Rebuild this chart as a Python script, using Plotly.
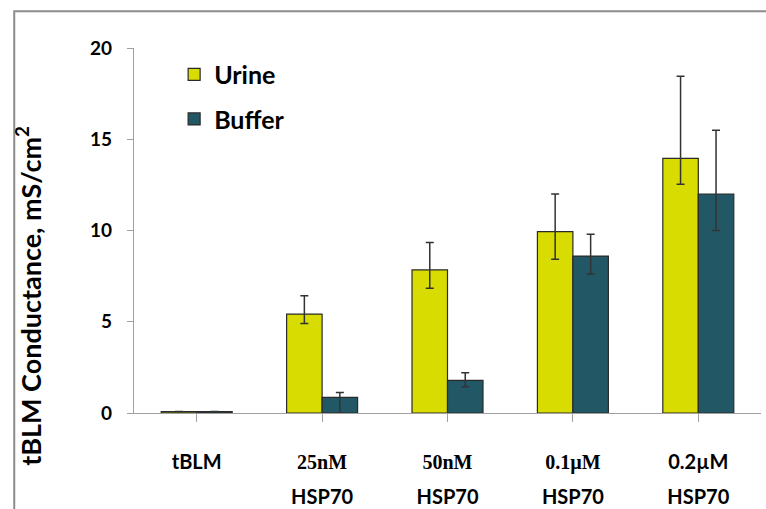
import plotly.graph_objects as go

# Conductance of tethered bilayer membranes (mS/cm^2) for each HSP70 dose
categories = ["tBLM", "25nM|HSP70", "50nM|HSP70", "0.1µM|HSP70", "0.2µM|HSP70"]
serif_first_line = [False, True, True, True, False]

urine = [0.08, 5.42, 7.84, 9.94, 13.95]
urine_err_plus = [0.0, 1.0, 1.5, 2.06, 4.5]
urine_err_minus = [0.0, 0.52, 1.0, 1.52, 1.42]

buffer = [0.08, 0.86, 1.79, 8.6, 12.0]
buffer_err_plus = [0.0, 0.27, 0.42, 1.2, 3.5]
buffer_err_minus = [0.0, 0.86, 0.35, 0.98, 2.0]

y_ticks = [0, 5, 10, 15, 20]
y_title = "tBLM Conductance, mS/cm<sup>2</sup>"

URINE_COLOR = "rgb(216,220,0)"
BUFFER_COLOR = "rgb(34,88,102)"
EDGE = "#2a2a2a"
AXIS_GRAY = "#a0a0a0"
FONT = "Lato"


def tick_text(label, serif):
    lines = label.split("|")
    out = []
    for i, line in enumerate(lines):
        fam = "Liberation Serif" if (serif and i == 0) else FONT
        out.append(f'<span style="font-family:{fam};font-size:20px">{line}</span>')
    return "<br>".join(out)


x_keys = list(range(len(categories)))
tick_labels = [tick_text(c, s) for c, s in zip(categories, serif_first_line)]

fig = go.Figure()
fig.add_trace(go.Bar(
    name="Urine", x=x_keys, y=urine,
    marker=dict(color=URINE_COLOR, line=dict(color=EDGE, width=1.2)),
    error_y=dict(type="data", symmetric=False, array=urine_err_plus,
                 arrayminus=urine_err_minus, color="#333333", thickness=1.5, width=4),
    legendgroup="u",
))
fig.add_trace(go.Bar(
    name="Buffer", x=x_keys, y=buffer,
    marker=dict(color=BUFFER_COLOR, line=dict(color=EDGE, width=1.2)),
    error_y=dict(type="data", symmetric=False, array=buffer_err_plus,
                 arrayminus=buffer_err_minus, color="#333333", thickness=1.5, width=4),
    legendgroup="b",
))

# outer frame of the chart area
fig.add_shape(type="rect", xref="paper", yref="paper",
              x0=-0.191, y0=-0.4, x1=1.2, y1=1.101,
              line=dict(color="#8c8c8c", width=2), fillcolor="rgba(0,0,0,0)", layer="below")

# vertical axis title
fig.add_annotation(text=y_title, xref="paper", yref="paper", x=-0.168, y=0.32,
                   xanchor="center", yanchor="middle", textangle=-90, showarrow=False,
                   font=dict(family=FONT, size=27, color="black", weight="bold"))

fig.update_layout(
    width=766, height=509,
    margin=dict(l=134, r=5, t=48, b=96, autoexpand=False),
    paper_bgcolor="white", plot_bgcolor="white",
    barmode="group", bargap=0.434, bargroupgap=0.0,
    font=dict(family=FONT, color="black"),
    showlegend=True,
    legend=dict(x=0.064, y=0.99, xanchor="left", yanchor="top",
                font=dict(family=FONT, size=25, color="black", weight="bold"),
                bgcolor="rgba(0,0,0,0)", tracegroupgap=9, traceorder="grouped"),
    xaxis=dict(
        tickmode="array", tickvals=x_keys, ticktext=tick_labels,
        range=[-0.5, len(categories) - 0.5], automargin=False,
        showline=True, linecolor=AXIS_GRAY, linewidth=1.3,
        ticks="outside", tickson="boundaries", ticklen=8, tickcolor=AXIS_GRAY, tickwidth=1.3,
        tickfont=dict(family=FONT, size=27, color="black", weight="bold"),
        ticklabelstandoff=14,
        showgrid=False, zeroline=False, fixedrange=True,
    ),
    yaxis=dict(
        range=[0, 20], tickvals=y_ticks, automargin=False,
        showline=True, linecolor=AXIS_GRAY, linewidth=1.3,
        ticks="outside", ticklen=6, tickcolor=AXIS_GRAY, tickwidth=1.3,
        tickfont=dict(family=FONT, size=19, color="black", weight="bold"),
        ticklabelstandoff=11,
        showgrid=False, zeroline=False,
    ),
)

fig.write_html("out.html")
